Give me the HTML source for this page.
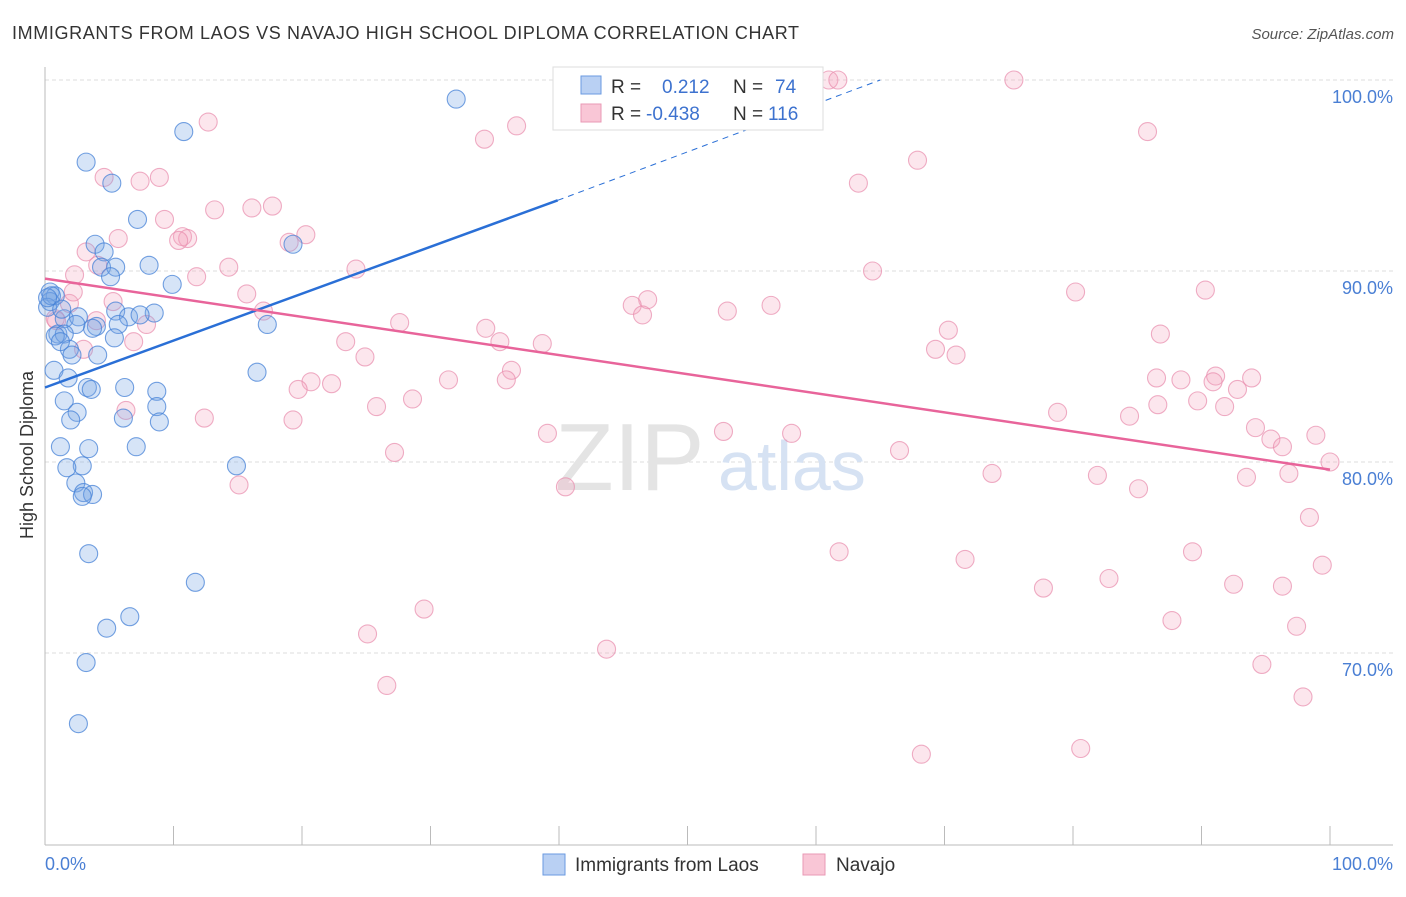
<!DOCTYPE html>
<html><head><meta charset="utf-8"><style>
body{margin:0;background:#fff;font-family:"Liberation Sans",sans-serif;}
svg text{font-family:"Liberation Sans",sans-serif;}
</style></head><body>
<svg width="1406" height="892" viewBox="0 0 1406 892">
<text x="12" y="39" font-size="18" fill="#333" textLength="787">IMMIGRANTS FROM LAOS VS NAVAJO HIGH SCHOOL DIPLOMA CORRELATION CHART</text>
<text x="1394" y="39" font-size="15" fill="#555" font-style="italic" text-anchor="end">Source: ZipAtlas.com</text>
<g id="grid"></g>
<g><text x="555" y="490" font-size="96" font-family="Liberation Serif" fill="#e4e4e4">ZIP</text><text x="718" y="490" font-size="70" fill="#d6e2f3">atlas</text></g>
<line x1="45" y1="67" x2="45" y2="845" stroke="#bbb"/>
<line x1="45" y1="845" x2="1393" y2="845" stroke="#bbb"/>
<g id="ticks"></g>
<text x="33" y="455" font-size="18" fill="#333" text-anchor="middle" transform="rotate(-90 33 455)">High School Diploma</text>
<text x="45" y="870" font-size="18" fill="#4a7fd4">0.0%</text>
<text x="1393" y="870" font-size="18" fill="#4a7fd4" text-anchor="end">100.0%</text>
<g id="pink"></g>
<g id="blue"></g>
<g id="lines"></g>
<g>
<rect x="553" y="67" width="270" height="63" fill="#fff" stroke="#ddd"/>
<rect x="581" y="76" width="20" height="18" fill="#b9d0f3" stroke="#6a9ae0"/>
<rect x="581" y="104" width="20" height="18" fill="#f9c6d6" stroke="#e999b5"/>
<text x="611" y="93" font-size="19" fill="#333">R =</text><text x="662" y="93" font-size="19" fill="#3d72cf">0.212</text>
<text x="733" y="93" font-size="19" fill="#333">N =</text><text x="775" y="93" font-size="19" fill="#3d72cf">74</text>
<text x="611" y="120" font-size="19" fill="#333">R =</text><text x="646" y="120" font-size="19" fill="#3d72cf">-0.438</text>
<text x="733" y="120" font-size="19" fill="#333">N =</text><text x="768" y="120" font-size="19" fill="#3d72cf">116</text>
</g>
<g>
<rect x="543" y="854" width="22" height="21" fill="#b9d0f3" stroke="#6a9ae0"/>
<text x="575" y="871" font-size="19" fill="#333">Immigrants from Laos</text>
<rect x="803" y="854" width="22" height="21" fill="#f9c6d6" stroke="#e999b5"/>
<text x="836" y="871" font-size="19" fill="#333">Navajo</text>
</g>
</svg>
<script>
const yTicks=[100,90,80,70];
const yTickLabels=["100.0%","90.0%","80.0%","70.0%"];
const xTicks=[0,10,20,30,40,50,60,70,80,90,100];
const laosX=[32.0,10.8,3.2,5.2,7.2,3.9,19.3,4.6,8.1,4.4,5.5,5.1,9.9,0.4,0.8,0.4,0.2,8.5,5.5,6.5,7.4,1.5,2.6,5.7,4.0,3.7,17.3,2.4,1.0,1.5,5.4,1.9,4.1,2.1,0.7,16.5,1.8,3.3,6.2,3.6,8.7,1.5,8.7,2.5,2.0,6.1,8.9,1.2,3.4,7.1,2.9,1.7,14.9,2.4,3.0,3.7,2.9,3.4,11.7,6.6,4.8,3.2,2.6,0.5,0.2,0.8,1.3,1.2];
const laosY=[99.0,97.3,95.7,94.6,92.7,91.4,91.4,91.0,90.3,90.2,90.2,89.7,89.3,88.9,88.7,88.4,88.1,87.8,87.9,87.6,87.7,87.5,87.6,87.2,87.1,87.0,87.2,87.2,86.7,86.7,86.5,85.9,85.6,85.6,84.8,84.7,84.4,83.9,83.9,83.8,83.7,83.2,82.9,82.6,82.2,82.3,82.1,80.8,80.7,80.8,79.8,79.7,79.8,78.9,78.4,78.3,78.2,75.2,73.7,71.9,71.3,69.5,66.3,88.7,88.6,86.6,88.0,86.3];
const navX=[52.5,61.0,61.7,75.4,12.7,36.7,34.2,85.8,4.6,67.9,7.4,8.9,63.3,13.2,16.1,17.7,9.3,10.7,5.7,11.1,20.3,3.2,10.4,19.0,4.1,14.3,24.2,2.3,11.8,64.4,15.7,80.2,90.3,1.9,5.3,46.9,45.7,46.5,56.5,17.0,53.1,0.9,7.9,27.6,34.3,70.3,6.9,35.4,38.7,23.4,69.3,70.9,24.9,3.0,36.3,35.9,31.4,20.7,19.7,22.3,86.5,88.4,91.1,90.9,93.9,92.8,89.7,91.8,86.6,28.6,25.8,78.8,84.4,6.3,12.4,19.3,39.1,52.8,58.1,94.2,95.4,98.9,96.3,27.2,66.5,100.0,73.7,81.9,93.5,96.8,85.1,40.5,15.1,98.4,61.8,71.6,89.3,99.4,82.8,77.7,92.5,96.3,29.5,25.1,87.7,97.4,43.7,94.7,26.6,97.9,68.2,80.6,2.2,0.8,4.0,86.8];
const navY=[100.0,100.0,100.0,100.0,97.8,97.6,96.9,97.3,94.9,95.8,94.7,94.9,94.6,93.2,93.3,93.4,92.7,91.8,91.7,91.7,91.9,91.0,91.6,91.5,90.3,90.2,90.1,89.8,89.7,90.0,88.8,88.9,89.0,88.3,88.4,88.5,88.2,87.7,88.2,87.9,87.9,87.4,87.2,87.3,87.0,86.9,86.3,86.3,86.2,86.3,85.9,85.6,85.5,85.9,84.8,84.3,84.3,84.2,83.8,84.1,84.4,84.3,84.5,84.2,84.4,83.8,83.2,82.9,83.0,83.3,82.9,82.6,82.4,82.7,82.3,82.2,81.5,81.6,81.5,81.8,81.2,81.4,80.8,80.5,80.6,80.0,79.4,79.3,79.2,79.4,78.6,78.7,78.8,77.1,75.3,74.9,75.3,74.6,73.9,73.4,73.6,73.5,72.3,71.0,71.7,71.4,70.2,69.4,68.3,67.7,64.7,65.0,88.9,87.5,87.4,86.7];
const laosTrendX=[0,39.9,65];
const laosTrend=[83.9,93.7,100.0];
const navTrendX=[0,100];
const navTrend=[89.6,79.6];
const NS="http://www.w3.org/2000/svg";
const sx=v=>45+v*12.85, sy=v=>80+(100-v)*19.1;
function mk(tag,attrs,parent){const e=document.createElementNS(NS,tag);for(const k in attrs)e.setAttribute(k,attrs[k]);parent.appendChild(e);return e;}
const grid=document.getElementById('grid');
yTicks.forEach((t,i)=>{
 const l=mk('line',{x1:45,x2:1393,y1:sy(t),y2:sy(t),stroke:'#ddd','stroke-dasharray':'4,3'},grid);
 
 
 const tx=mk('text',{x:1393,y:sy(t)+23,'font-size':18,fill:'#4a7fd4','text-anchor':'end'},grid);
 tx.textContent=yTickLabels[i];
 
 
});
const ticks=document.getElementById('ticks');
xTicks.forEach(t=>{
 const l=mk('line',{x1:sx(t),x2:sx(t),y1:826,y2:845,stroke:'#bbb'},ticks);
 
 
});
function pts(xs,ys,g,fill,stroke,name){
 const p=document.getElementById(g);
 xs.forEach((x,i)=>{
  const c=mk('circle',{cx:sx(x),cy:sy(ys[i]),r:9,fill:fill,stroke:stroke,'stroke-width':1.1},p);
  
  
 });
}
pts(navX,navY,'pink','rgba(244,165,192,0.28)','rgba(232,140,172,0.7)','navajo-point');
pts(laosX,laosY,'blue','rgba(120,165,230,0.3)','rgba(70,130,215,0.75)','laos-point');
const lines=document.getElementById('lines');
const b1=mk('line',{x1:sx(laosTrendX[0]),y1:sy(laosTrend[0]),x2:sx(laosTrendX[1]),y2:sy(laosTrend[1]),stroke:'#2a6fd6','stroke-width':2.5},lines);


const b2=mk('line',{x1:sx(laosTrendX[1]),y1:sy(laosTrend[1]),x2:sx(laosTrendX[2]),y2:sy(laosTrend[2]),stroke:'#2a6fd6','stroke-width':1,'stroke-dasharray':'6,5'},lines);


const p1=mk('line',{x1:sx(navTrendX[0]),y1:sy(navTrend[0]),x2:sx(navTrendX[1]),y2:sy(navTrend[1]),stroke:'#e8649a','stroke-width':2.5},lines);


</script>
</body></html>
